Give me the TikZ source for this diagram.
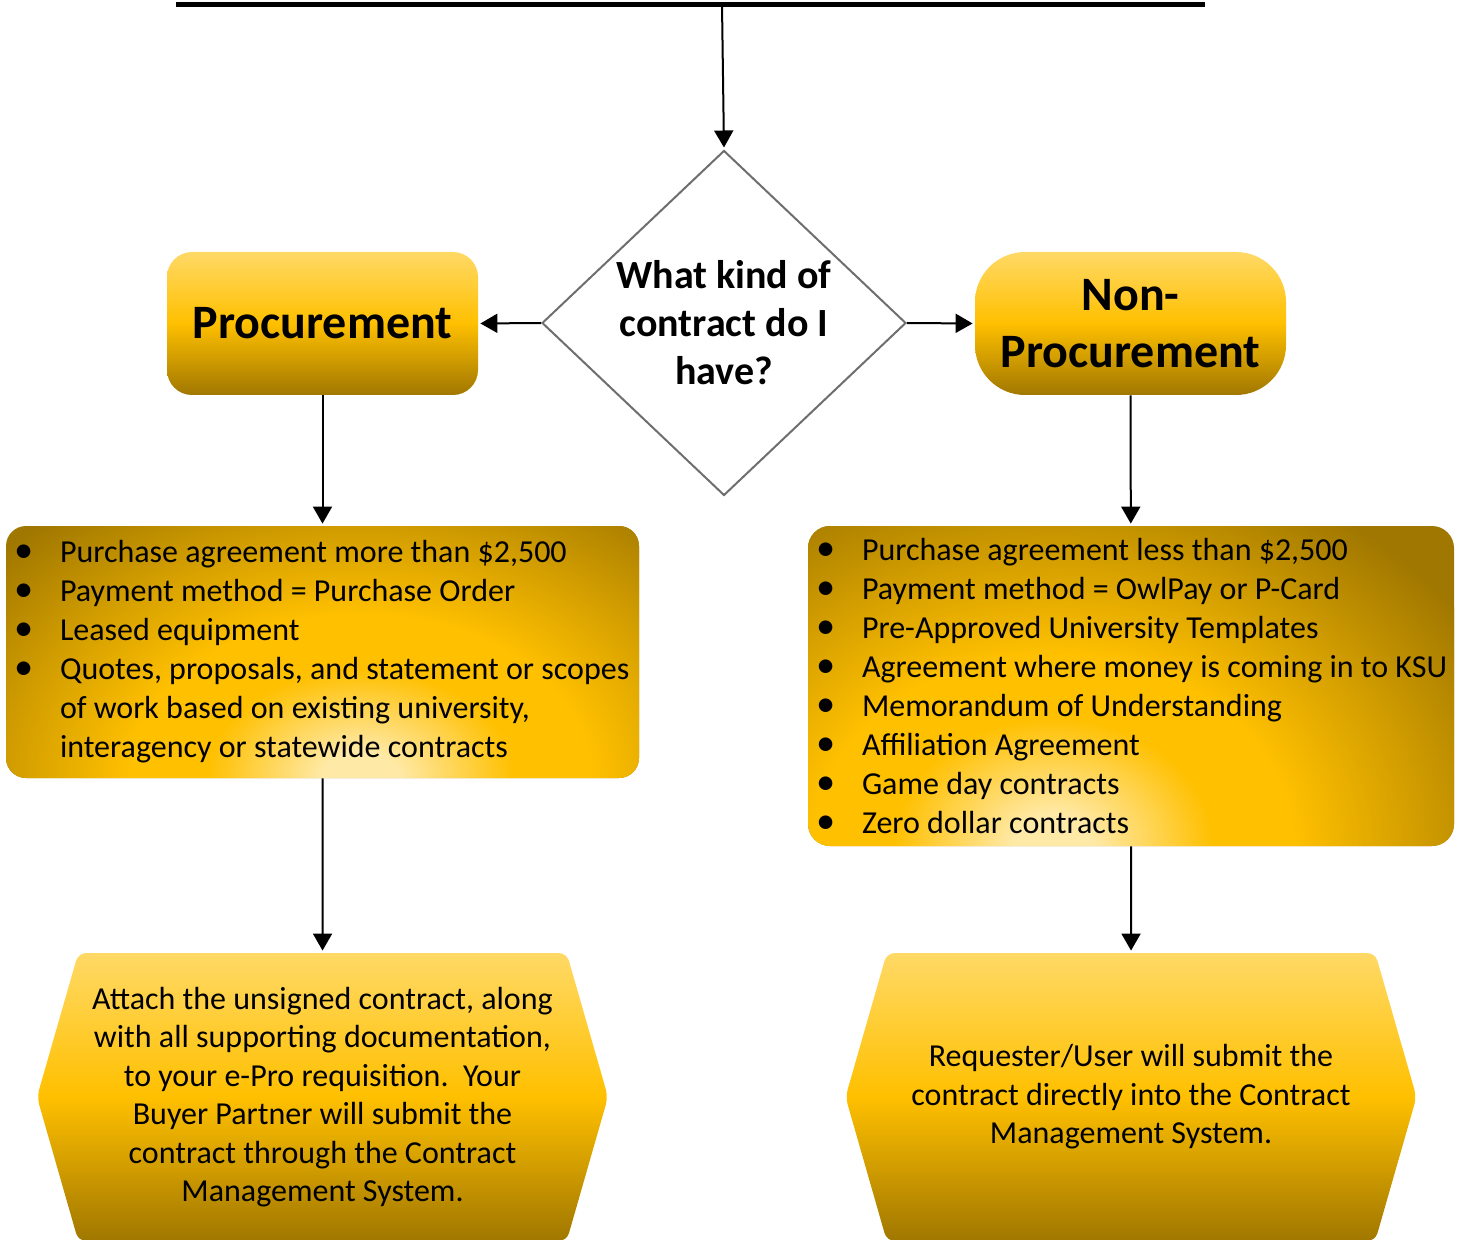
\documentclass[tikz,border=0pt]{standalone}
\usepackage{fontspec}
\setmainfont{Carlito}
\usetikzlibrary{shapes,arrows.meta}
\definecolor{goldtop}{HTML}{FFD966}
\definecolor{goldmid}{HTML}{FFC000}
\definecolor{golddark}{HTML}{A07700}
\definecolor{goldpale}{HTML}{FFE9A6}
\definecolor{diagray}{HTML}{6E6E6E}
\pgfdeclareradialshading{glow}{\pgfpoint{0bp}{0bp}}{color(0bp)=(goldpale); color(2bp)=(goldpale); color(8bp)=(goldmid); color(12bp)=(goldmid); color(25bp)=(golddark); color(50bp)=(golddark)}
\newcommand{\bul}[1]{\mbox{\spaceskip=0pt\xspaceskip=0pt\makebox[23pt][l]{\scalebox{1.2}{\textbullet}}#1}}
\newcommand{\nobul}[1]{\mbox{\spaceskip=0pt\xspaceskip=0pt\hspace*{23pt}#1}}

\begin{document}
\begin{tikzpicture}[x=0.5pt, y=-0.5pt]
\tikzstyle{flow}=[->, >={Triangle[length=8.5pt,width=9.5pt]}, shorten >=1pt, line width=1pt]
\tikzstyle{decision}=[diamond, draw=diagray, line width=1pt, minimum width=182pt, minimum height=172.5pt, inner sep=0pt]
\tikzstyle{ttl}=[top color=goldtop, bottom color=golddark, middle color=goldmid, minimum width=155.5pt, minimum height=71.5pt, align=center, font=\fontsize{24}{28.5}\selectfont\bfseries]
\tikzstyle{lst}=[fill=golddark, align=left, inner xsep=4pt, font=\fontsize{16}{19.5}\selectfont, rounded corners=10pt]
\tikzstyle{hex}=[signal, signal to=west and east, signal pointer angle=148, top color=goldtop, bottom color=golddark, middle color=goldmid, minimum width=285.5pt, minimum height=144pt, rounded corners=4pt, align=center, font=\fontsize{16}{19.25}\selectfont]
\useasboundingbox (0,0) rectangle (1465,1240);
% top bar
\coordinate (barL) at (176,5);
\coordinate (barR) at (1205,5);
\coordinate (barM) at (722,5);
\draw[line width=2.5pt] (barL) -- (barR);
% question
\node[decision, label={[align=center, font=\fontsize{20}{24}\selectfont\bfseries]center:What kind of\\contract do I\\have?}] (q) at (724,323) {};
\node[ttl, rounded corners=12.5pt] (proc)  at (322.5,323.5) {Procurement};
\node[ttl, rounded corners=25pt]   (nproc) at (1130.5,323.5) {Non-\\Procurement};
% lists
\node[lst, text width=308.5pt, minimum height=126pt,
  path picture={\shade[shading=glow] ([xshift=19pt]path picture bounding box.south) ellipse [x radius=240pt, y radius=170pt];}] (plist) at (322.5,652) {%
\bul{Purchase agreement more than \$2,500}\\
\bul{Payment method = Purchase Order}\\
\bul{Leased equipment}\\
\bul{Quotes, proposals, and statement or scopes}\\
\nobul{of work based on existing university,}\\
\nobul{interagency or statewide contracts}};
\node[lst, text width=315pt, minimum height=160pt, rounded corners=11pt,
  path picture={\shade[shading=glow] ([xshift=-39pt]path picture bounding box.south) ellipse [x radius=250pt, y radius=200pt];}] (nlist) at (1131,686) {%
\bul{Purchase agreement less than \$2,500}\\
\bul{Payment method = OwlPay or P-Card}\\
\bul{Pre-Approved University Templates}\\
\bul{Agreement where money is coming in to KSU}\\
\bul{Memorandum of Understanding}\\
\bul{Affiliation Agreement}\\
\bul{Game day contracts}\\
\bul{Zero dollar contracts}};
% submit steps
\node[hex] (psub) at (322.5,1097) {Attach the unsigned contract, along\\with all supporting documentation,\\to your e-Pro requisition.\ \ Your\\Buyer Partner will submit the\\contract through the Contract\\Management System.};
\node[hex] (nsub) at (1131,1097) {Requester/User will submit the\\contract directly into the Contract\\Management System.};
\path[flow]
(barM)    edge (q.north)
(q.west)  edge (proc.east)
(q.east)  edge (nproc.west)
(proc)    edge (plist)
(nproc)   edge (nlist)
(plist)   edge (psub)
(nlist)   edge (nsub);
\end{tikzpicture}
\end{document}
